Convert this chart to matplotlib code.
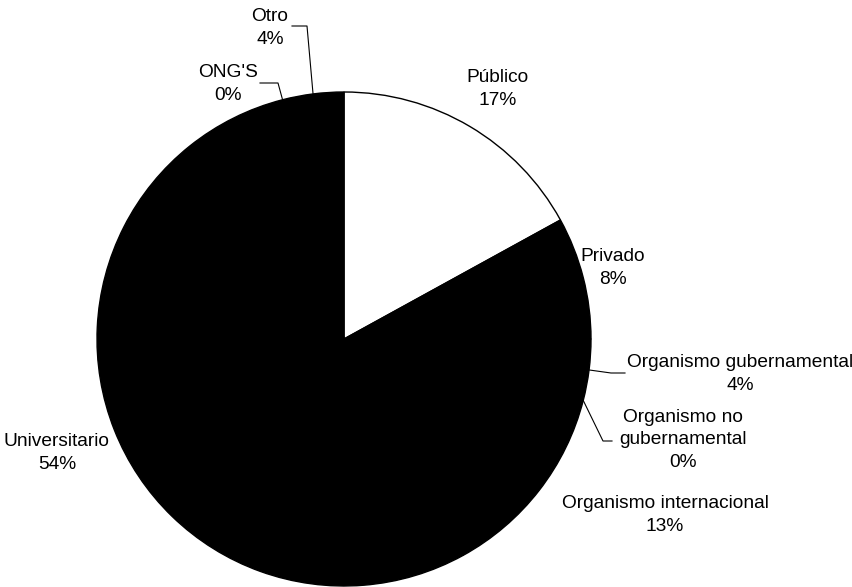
import numpy as np
import matplotlib
matplotlib.use("Agg")
import matplotlib.pyplot as plt

plt.rcParams['font.family'] = ['Liberation Sans', 'DejaVu Sans']

labels = ['Público', 'Privado', 'Organismo gubernamental', 'Organismo no\ngubernamental',
          'Organismo internacional', 'Universitario', "ONG'S", 'Otro']
values = [17, 8, 4, 0, 13, 54, 0, 4]
colors = ['white'] + ['black'] * 7

W, H = 853, 587
# label text centres (pixels, from top-left) and leader elbows
text_pos = [(498, 89), (613, 268), (740, 374), (683, 440),
            (665, 515), (57, 453), (228, 84), (270, 28)]
leaders = {2: [(611, 373), (625, 373)],
           3: [(603, 441), (612, 441)],
           6: [(278, 83), (260, 83)],
           7: [(307, 26), (292, 26)]}

fig = plt.figure(figsize=(W / 100, H / 100), dpi=100)
ax = fig.add_axes([0, 0, 1, 1])

cx, cy, r = 344, H - 339, 247
wedges, _ = ax.pie(values, colors=colors, startangle=90, counterclock=False,
                   center=(cx, cy), radius=r, frame=True,
                   wedgeprops=dict(edgecolor='black', linewidth=1))
ax.set_xlim(0, W)
ax.set_ylim(0, H)
ax.set_aspect('equal')
ax.axis('off')

for i, (w, lab, v) in enumerate(zip(wedges, labels, values)):
    tx, ty = text_pos[i]
    ax.text(tx, H - ty, f"{lab}\n{v}%", ha='center', va='center',
            fontsize=13.8, linespacing=1.42, color='black')
    if i in leaders:
        ang = np.deg2rad((w.theta1 + w.theta2) / 2)
        px, py = cx + r * np.cos(ang), cy + r * np.sin(ang)
        xs = [px] + [p[0] for p in leaders[i]]
        ys = [py] + [H - p[1] for p in leaders[i]]
        ax.plot(xs, ys, color='black', linewidth=0.8)

fig.savefig('out.png', dpi=100)
